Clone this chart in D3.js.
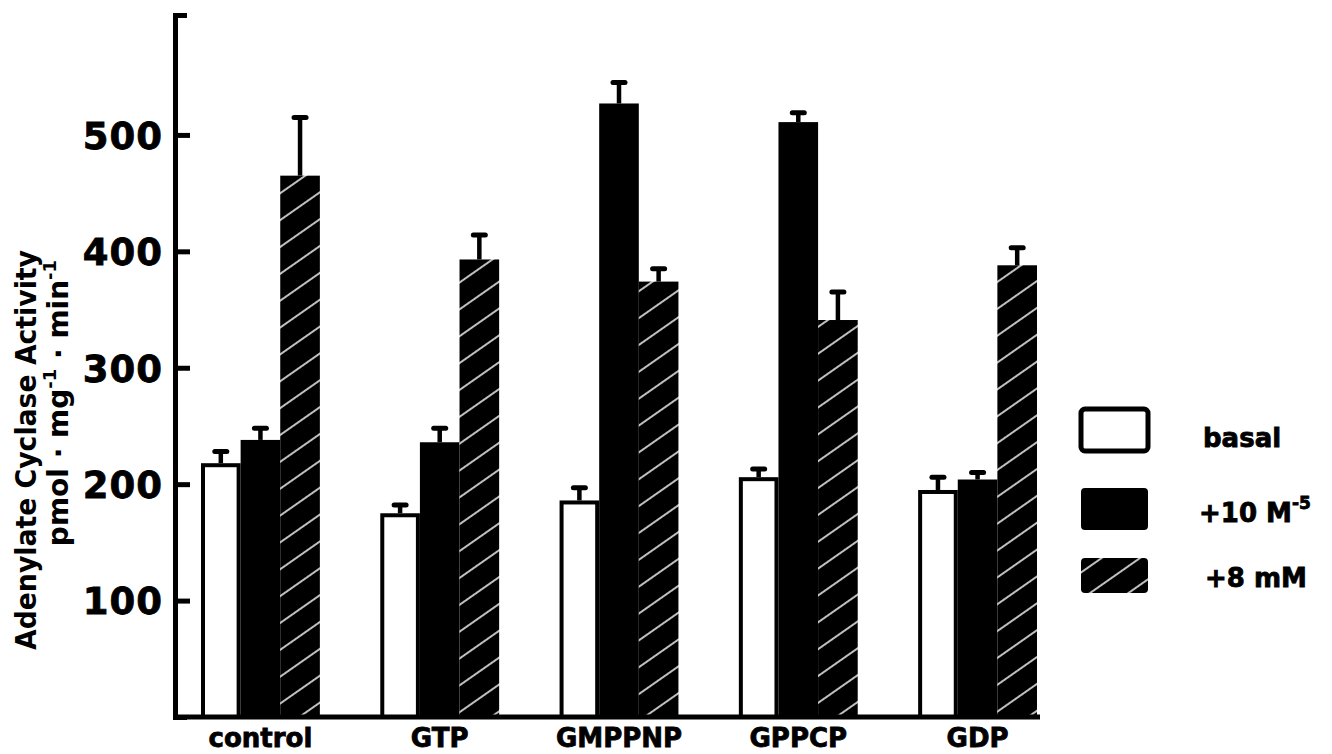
<!DOCTYPE html>
<html>
<head>
<meta charset="utf-8">
<script src="https://cdn.jsdelivr.net/npm/d3@7"></script>
<style>
  html, body { margin: 0; padding: 0; background: #fff; }
  svg { display: block; }
  text { font-family: "DejaVu Sans", sans-serif; font-weight: bold; fill: #000; }
</style>
</head>
<body>
<svg id="chart" width="1332" height="754"></svg>
<script>
// Adenylate cyclase activity per nucleotide treatment
const groups = ["control", "GTP", "GMPPNP", "GPPCP", "GDP"];
const basal = [218, 175, 186, 206, 195];
const basalErr = [10, 7, 11, 7, 11];
const plus10 = [238, 236, 527, 511, 204];
const plus10Err = [10, 12, 18, 8, 6];
const plus8 = [465, 393, 374, 341, 388];
const plus8Err = [50, 21, 11, 24, 15];
const seriesKeys = ["basal", "plus10", "plus8"];
const yTicks = [100, 200, 300, 400, 500];
const yTitle = "Adenylate Cyclase Activity";

const seriesValues = { basal: basal, plus10: plus10, plus8: plus8 };
const seriesErrors = { basal: basalErr, plus10: plus10Err, plus8: plus8Err };

const svg = d3.select("#chart");

// hatch: black ground with thin white rising diagonals
const defs = svg.append("defs");
const pat = defs.append("pattern")
  .attr("id", "hatch")
  .attr("patternUnits", "userSpaceOnUse")
  .attr("width", 40).attr("height", 22)
  .attr("patternTransform", "rotate(-35)");
pat.append("rect").attr("width", 40).attr("height", 22).attr("fill", "#000");
pat.append("line").attr("x1", 0).attr("x2", 40).attr("y1", 11).attr("y2", 11)
  .attr("stroke", "#fff").attr("stroke-width", 1.4);

const axisLeftX = 175;
const y = d3.scaleLinear().domain([0, 603]).range([717, 15]);
const x = d3.scaleBand().domain(groups).range([201, 1037]).paddingInner(0.337).paddingOuter(0);
const xs = d3.scaleBand().domain(seriesKeys).range([0, x.bandwidth()]).padding(0);

const fillFor = k => k === "basal" ? "#fff" : (k === "plus10" ? "#000" : "url(#hatch)");

// bars
const barData = [];
groups.forEach((g, i) => {
  seriesKeys.forEach(k => {
    barData.push({ g: g, k: k, v: seriesValues[k][i], e: seriesErrors[k][i] });
  });
});

const gBars = svg.append("g");
// error bars (behind the bar tops)
const gErr = gBars.append("g");
barData.forEach(d => {
  const cx = x(d.g) + xs(d.k) + xs.bandwidth() / 2;
  gErr.append("line")
    .attr("x1", cx).attr("x2", cx)
    .attr("y1", y(d.v)).attr("y2", y(d.v + d.e))
    .attr("stroke", "#000").attr("stroke-width", 4.5);
  gErr.append("line")
    .attr("x1", cx - 6).attr("x2", cx + 6)
    .attr("y1", y(d.v + d.e)).attr("y2", y(d.v + d.e))
    .attr("stroke", "#000").attr("stroke-width", 5).attr("stroke-linecap", "round");
});

gBars.selectAll("rect.bar")
  .data(barData)
  .join("rect")
  .attr("class", "bar")
  .attr("x", d => x(d.g) + xs(d.k) + (d.k === "basal" ? 2 : 0))
  .attr("width", d => xs.bandwidth() - (d.k === "basal" ? 4 : 0))
  .attr("y", d => y(d.v) + (d.k === "basal" ? 2 : 0))
  .attr("height", d => y(0) - y(d.v) - (d.k === "basal" ? 2 : 0))
  .attr("fill", d => fillFor(d.k))
  .attr("stroke", d => d.k === "basal" ? "#000" : "none")
  .attr("stroke-width", 4);

// y axis: ticks point inward, labels on the left
const yAxis = d3.axisLeft(y)
  .tickValues(yTicks)
  .tickFormat(d3.format("d"))
  .tickSizeInner(-15)
  .tickSizeOuter(-12)
  .tickPadding(12);
const gy = svg.append("g").attr("transform", `translate(${axisLeftX},0)`).call(yAxis);
gy.select(".domain").attr("stroke", "#000").attr("stroke-width", 5).attr("fill", "none");
gy.selectAll(".tick line").attr("stroke", "#000").attr("stroke-width", 5);
gy.selectAll(".tick text")
  .attr("font-size", 37).attr("font-weight", "bold")
  .attr("font-family", "DejaVu Sans")
  .attr("stroke", "#000").attr("stroke-width", 0.8)
  .attr("letter-spacing", 1)
  .attr("dy", "0.36em");

// x axis line
svg.append("line")
  .attr("x1", axisLeftX).attr("x2", x.range()[1] + 3)
  .attr("y1", y(0)).attr("y2", y(0))
  .attr("stroke", "#000").attr("stroke-width", 5);

const xAxis = d3.axisBottom(x).tickSize(0).tickPadding(10);
const gx = svg.append("g").attr("transform", `translate(0,${y(0)})`).call(xAxis);
gx.select(".domain").remove();
gx.selectAll(".tick text")
  .attr("font-size", 26).attr("font-weight", "bold")
  .attr("font-family", "DejaVu Sans")
  .attr("stroke", "#000").attr("stroke-width", 0.8)
  .attr("dy", "0.75em");

// y-axis title, two rotated lines
svg.append("text")
  .attr("transform", "translate(36,450) rotate(-90)")
  .attr("text-anchor", "middle")
  .attr("font-size", 28)
  .attr("textLength", 400)
  .attr("lengthAdjust", "spacingAndGlyphs")
  .text(yTitle);

const unit = svg.append("text")
  .attr("transform", "translate(68,403) rotate(-90)")
  .attr("text-anchor", "middle")
  .attr("font-size", 28);
unit.append("tspan").text("pmol · mg");
unit.append("tspan").attr("font-size", 18).attr("dy", -12).text("-1");
unit.append("tspan").attr("dy", 12).text(" · min");
unit.append("tspan").attr("font-size", 18).attr("dy", -12).text("-1");

// legend
const legendRows = [
  { k: "basal", y0: 407, h: 46 },
  { k: "plus10", y0: 488, h: 42 },
  { k: "plus8", y0: 558, h: 35 }
];
const lg = svg.append("g");
legendRows.forEach(r => {
  lg.append("rect")
    .attr("x", 1081)
    .attr("y", r.k === "basal" ? r.y0 + 2 : r.y0)
    .attr("width", 67)
    .attr("height", r.k === "basal" ? r.h - 4 : r.h)
    .attr("rx", 4)
    .attr("fill", fillFor(r.k))
    .attr("stroke", r.k === "basal" ? "#000" : "none")
    .attr("stroke-width", 5);
});
lg.append("text").attr("x", 1203).attr("y", 447).attr("font-size", 26)
  .attr("stroke", "#000").attr("stroke-width", 0.8).text("basal");
const l2 = lg.append("text").attr("x", 1199).attr("y", 522).attr("font-size", 26)
  .attr("stroke", "#000").attr("stroke-width", 0.8);
l2.append("tspan").text("+10  M");
l2.append("tspan").attr("font-size", 17).attr("dy", -13).text("-5");
lg.append("text").attr("x", 1205).attr("y", 587).attr("font-size", 26)
  .attr("stroke", "#000").attr("stroke-width", 0.8).text("+8 mM");
</script>
</body>
</html>
